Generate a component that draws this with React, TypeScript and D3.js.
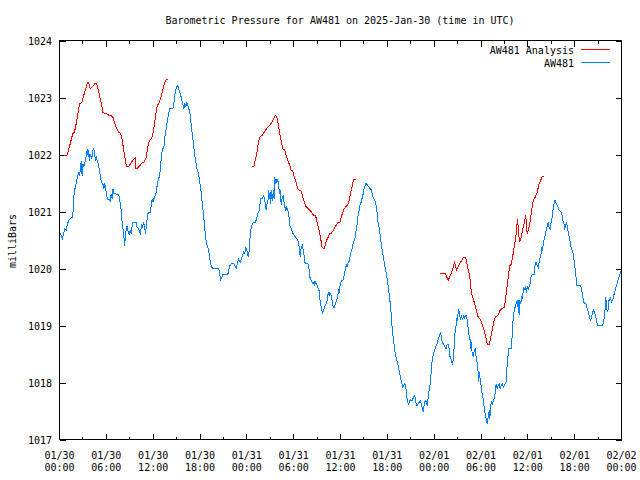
import React from "react";
import * as d3 from "d3";

// Minutes since 2025-01-30 00:00 UTC, pressure in millibars
const aw481: [number, number][] = [
[0,1020.64],[8,1020.61],[21,1020.52],[31,1020.61],[41,1020.70],[51,1020.67],[61,1020.78],[71,1020.84],[82,1020.87],[92,1020.90],[102,1020.90],[108,1021.19],[115,1021.40],[123,1021.40],[128,1021.51],[141,1021.63],[148,1021.69],[154,1021.63],[159,1021.72],[167,1021.89],[171,1021.72],[174,1021.63],[179,1021.84],[187,1021.79],[198,1021.89],[205,1021.98],[215,1022.10],[221,1021.95],[225,1022.07],[231,1021.89],[238,1022.01],[248,1021.92],[256,1022.07],[264,1022.10],[271,1021.98],[277,1021.89],[282,1021.98],[290,1021.89],[297,1021.84],[302,1021.78],[313,1021.63],[323,1021.51],[333,1021.49],[341,1021.40],[348,1021.50],[354,1021.40],[359,1021.34],[367,1021.22],[379,1021.21],[390,1021.19],[397,1021.31],[405,1021.22],[410,1021.40],[417,1021.32],[428,1021.31],[440,1021.30],[456,1021.30],[463,1021.19],[471,1021.08],[477,1020.96],[482,1020.78],[487,1020.72],[494,1020.58],[502,1020.40],[507,1020.64],[513,1020.67],[520,1020.75],[528,1020.64],[536,1020.61],[543,1020.67],[551,1020.61],[559,1020.75],[563,1020.80],[576,1020.80],[590,1020.80],[597,1020.72],[607,1020.70],[615,1020.64],[623,1020.61],[630,1020.78],[638,1020.72],[646,1020.81],[653,1020.75],[661,1020.61],[669,1020.79],[679,1020.96],[689,1020.99],
[699,1020.99],[707,1021.14],[713,1021.22],[720,1021.16],[725,1021.22],[736,1021.28],[743,1021.34],[751,1021.46],[761,1021.59],[769,1021.61],[776,1021.78],[784,1021.98],[792,1022.10],[802,1022.11],[807,1022.25],[815,1022.39],[820,1022.45],[828,1022.57],[836,1022.68],[846,1022.80],[859,1022.80],[871,1022.80],[879,1022.89],[884,1023.01],[892,1023.12],[899,1023.18],[909,1023.21],[917,1023.15],[925,1023.09],[935,1023.01],[943,1022.92],[951,1022.86],[955,1022.80],[963,1022.89],[971,1022.84],[979,1022.92],[986,1022.86],[994,1022.80],[1002,1022.74],[1009,1022.60],[1017,1022.42],[1025,1022.28],[1032,1022.13],[1040,1021.98],[1048,1021.87],[1055,1021.75],[1063,1021.72],[1071,1021.63],[1078,1021.51],[1086,1021.40],[1094,1021.22],[1101,1021.08],[1109,1020.90],[1117,1020.70],[1125,1020.52],[1132,1020.43],[1140,1020.37],[1148,1020.29],[1155,1020.17],[1163,1020.08],[1171,1020.02],[1178,1020.00],[1212,1020.00],[1224,1020.00],[1232,1019.88],[1240,1019.80],[1248,1019.85],[1258,1019.90],[1276,1019.90],[1294,1019.90],[1301,1019.97],[1309,1020.05],[1322,1020.09],[1340,1020.09],[1347,1020.05],[1360,1020.01],[1370,1020.11],[1376,1020.17],[1384,1020.14],[1391,1020.11],[1399,1020.17],[1407,1020.23],[1417,1020.29],[1424,1020.26],
[1430,1020.37],[1437,1020.35],[1445,1020.26],[1453,1020.20],[1460,1020.37],[1466,1020.58],[1474,1020.72],[1481,1020.78],[1494,1020.81],[1507,1020.81],[1514,1020.87],[1524,1020.96],[1537,1021.02],[1545,1021.22],[1553,1021.22],[1563,1021.25],[1570,1021.28],[1578,1021.19],[1589,1021.02],[1596,1021.14],[1604,1021.22],[1609,1021.37],[1614,1021.22],[1620,1021.34],[1624,1021.14],[1630,1021.37],[1635,1021.28],[1640,1021.19],[1645,1021.37],[1650,1021.22],[1655,1021.60],[1660,1021.49],[1666,1021.57],[1670,1021.51],[1676,1021.57],[1681,1021.51],[1686,1021.43],[1691,1021.31],[1696,1021.37],[1701,1021.19],[1706,1021.11],[1712,1021.25],[1719,1021.28],[1727,1021.14],[1732,1021.08],[1740,1021.02],[1747,1021.08],[1755,1021.02],[1763,1020.93],[1770,1020.75],[1778,1020.72],[1789,1020.64],[1796,1020.61],[1804,1020.58],[1814,1020.55],[1822,1020.52],[1832,1020.50],[1839,1020.43],[1845,1020.32],[1850,1020.20],[1858,1020.37],[1866,1020.40],[1870,1020.35],[1878,1020.29],[1883,1020.11],[1896,1020.09],[1909,1020.08],[1916,1020.05],[1924,1019.85],[1935,1019.79],[1942,1019.76],[1950,1019.73],[1958,1019.76],[1962,1019.70],[1968,1019.76],[1975,1019.73],[1983,1019.70],[1989,1019.64],[1996,1019.61],[2001,1019.47],[2009,1019.35],[2014,1019.29],[2022,1019.21],[2027,1019.26],[2035,1019.29],[2042,1019.35],[2050,1019.38],[2058,1019.44],[2065,1019.56],[2073,1019.58],[2078,1019.53],[2085,1019.56],[2093,1019.47],[2101,1019.35],[2109,1019.31],[2116,1019.35],[2121,1019.38],[2129,1019.44],[2137,1019.50],[2145,1019.61],[2150,1019.58],[2155,1019.67],
[2160,1019.73],[2168,1019.79],[2181,1019.80],[2185,1019.85],[2193,1019.94],[2201,1020.02],[2206,1020.08],[2211,1020.02],[2216,1020.09],[2224,1020.11],[2231,1020.17],[2237,1020.26],[2244,1020.32],[2252,1020.37],[2258,1020.46],[2262,1020.46],[2268,1020.52],[2273,1020.55],[2278,1020.64],[2283,1020.72],[2288,1020.78],[2293,1020.90],[2301,1020.99],[2308,1021.11],[2316,1021.14],[2324,1021.22],[2329,1021.25],[2334,1021.31],[2339,1021.37],[2344,1021.43],[2352,1021.46],[2357,1021.50],[2365,1021.47],[2373,1021.44],[2381,1021.42],[2388,1021.40],[2396,1021.38],[2404,1021.31],[2411,1021.25],[2416,1021.22],[2424,1021.19],[2431,1021.14],[2437,1021.05],[2442,1020.96],[2447,1020.84],[2454,1020.75],[2460,1020.67],[2465,1020.58],[2470,1020.49],[2477,1020.37],[2485,1020.26],[2493,1020.15],[2500,1020.05],[2508,1019.97],[2516,1019.85],[2524,1019.73],[2531,1019.61],[2539,1019.47],[2544,1019.32],[2550,1019.20],[2554,1019.03],[2562,1018.85],[2570,1018.71],[2577,1018.56],[2585,1018.47],[2593,1018.39],[2600,1018.33],[2608,1018.24],[2616,1018.15],[2623,1018.07],[2631,1017.98],[2639,1017.92],[2647,1017.95],[2654,1017.98],[2662,1017.92],[2667,1017.80],[2675,1017.68],[2683,1017.60],[2688,1017.66],[2693,1017.68],[2700,1017.70],[2708,1017.68],[2716,1017.71],[2723,1017.75],[2731,1017.77],[2736,1017.68],[2744,1017.60],[2752,1017.60],[2759,1017.63],[2767,1017.66],[2775,1017.68],[2783,1017.60],[2790,1017.54],[2796,1017.48],[2800,1017.57],[2808,1017.66],[2816,1017.68],[2821,1017.63],[2829,1017.60],[2836,1017.80],[2844,1017.89],
[2852,1018.01],[2859,1018.27],[2867,1018.42],[2875,1018.50],[2882,1018.56],[2890,1018.62],[2898,1018.65],[2906,1018.71],[2913,1018.77],[2921,1018.81],[2929,1018.88],[2936,1018.80],[2942,1018.71],[2949,1018.68],[2957,1018.65],[2965,1018.62],[2972,1018.59],[2980,1018.67],[2992,1018.67],[2998,1018.47],[3005,1018.44],[3013,1018.39],[3021,1018.30],[3026,1018.39],[3031,1018.53],[3039,1018.85],[3046,1018.94],[3052,1019.12],[3059,1019.10],[3067,1019.29],[3075,1019.20],[3082,1019.09],[3090,1019.18],[3098,1019.09],[3103,1019.15],[3108,1019.18],[3115,1019.12],[3121,1019.18],[3128,1019.18],[3134,1019.09],[3142,1018.94],[3149,1018.82],[3157,1018.74],[3161,1018.59],[3167,1018.71],[3172,1018.50],[3180,1018.47],[3188,1018.56],[3195,1018.59],[3203,1018.44],[3211,1018.33],[3218,1018.18],[3223,1018.01],[3228,1018.18],[3234,1018.04],[3241,1017.95],[3249,1017.80],[3257,1017.71],[3264,1017.57],[3272,1017.45],[3280,1017.36],[3288,1017.28],[3295,1017.39],[3303,1017.51],[3308,1017.36],[3313,1017.57],[3321,1017.68],[3328,1017.63],[3336,1017.68],[3344,1017.74],[3351,1017.86],[3357,1017.98],[3364,1017.89],[3372,1017.95],[3380,1017.98],[3388,1017.89],[3395,1017.95],[3403,1017.98],[3411,1017.92],[3418,1017.95],[3426,1017.98],[3434,1018.01],[3438,1018.21],[3446,1018.44],[3454,1018.59],[3467,1018.59],[3474,1018.59],[3480,1018.85],[3487,1019.12],[3495,1019.26],[3503,1019.33],[3510,1019.38],[3518,1019.44],[3523,1019.32],[3528,1019.44],[3533,1019.18],[3538,1019.44],[3546,1019.38],[3554,1019.50],
[3559,1019.47],[3567,1019.68],[3574,1019.64],[3582,1019.67],[3590,1019.58],[3595,1019.68],[3603,1019.64],[3610,1019.68],[3618,1019.73],[3626,1019.88],[3636,1019.89],[3649,1019.89],[3657,1020.08],[3664,1020.11],[3672,1020.05],[3680,1020.02],[3687,1020.11],[3695,1020.20],[3703,1020.26],[3707,1020.37],[3713,1020.30],[3718,1020.43],[3726,1020.52],[3733,1020.58],[3741,1020.67],[3749,1020.75],[3756,1020.81],[3764,1020.72],[3772,1020.70],[3779,1020.81],[3787,1020.90],[3795,1021.05],[3803,1021.16],[3810,1021.20],[3818,1021.14],[3826,1021.11],[3833,1021.08],[3841,1021.02],[3849,1021.00],[3856,1020.99],[3864,1020.93],[3872,1020.81],[3879,1020.78],[3884,1020.70],[3889,1020.72],[3895,1020.81],[3902,1020.75],[3910,1020.64],[3918,1020.55],[3926,1020.46],[3933,1020.37],[3941,1020.32],[3949,1020.25],[3956,1020.14],[3964,1019.99],[3972,1019.82],[3976,1019.70],[3987,1019.70],[3999,1019.70],[4007,1019.70],[4015,1019.61],[4022,1019.50],[4030,1019.41],[4038,1019.38],[4046,1019.38],[4053,1019.32],[4061,1019.26],[4069,1019.20],[4076,1019.12],[4084,1019.09],[4089,1019.15],[4097,1019.20],[4105,1019.29],[4112,1019.23],[4120,1019.18],[4128,1019.09],[4136,1019.00],[4148,1019.00],[4161,1019.00],[4174,1019.00],[4181,1019.06],[4189,1019.15],[4195,1019.32],[4199,1019.50],[4205,1019.32],[4212,1019.23],[4220,1019.32],[4225,1019.47],[4230,1019.44],[4235,1019.50],[4243,1019.41],[4251,1019.44],[4258,1019.50],[4266,1019.58],[4274,1019.64],[4281,1019.70],[4289,1019.76],[4297,1019.82],[4304,1019.88],[4312,1019.92],[4320,1019.98]
];

const analysisRun1: [number, number][] = [
[38,1021.98],[56,1021.98],[64,1022.04],[77,1022.14],[90,1022.26],[102,1022.37],[115,1022.39],[128,1022.54],[141,1022.71],[154,1022.89],[171,1022.91],[184,1023.02],[200,1023.14],[215,1023.26],[225,1023.26],[236,1023.15],[248,1023.18],[261,1023.21],[271,1023.24],[287,1023.24],[300,1023.12],[313,1022.98],[325,1022.86],[333,1022.74],[351,1022.72],[364,1022.71],[379,1022.69],[397,1022.68],[410,1022.66],[425,1022.54],[440,1022.45],[456,1022.39],[471,1022.37],[482,1022.25],[492,1022.10],[505,1021.92],[515,1021.79],[530,1021.79],[546,1021.84],[561,1021.89],[582,1021.94],[584,1021.75],[597,1021.75],[610,1021.79],[623,1021.82],[636,1021.85],[653,1021.87],[666,1021.95],[679,1022.13],[692,1022.25],[709,1022.29],[723,1022.42],[738,1022.67],[751,1022.86],[763,1022.89],[776,1022.98],[789,1023.09],[802,1023.21],[815,1023.30],[830,1023.32]
];
const analysisRun2: [number, number][] = [
[1481,1021.79],[1494,1021.79],[1507,1021.92],[1520,1022.07],[1532,1022.25],[1545,1022.32],[1558,1022.33],[1570,1022.38],[1583,1022.42],[1596,1022.47],[1609,1022.49],[1622,1022.53],[1635,1022.58],[1647,1022.64],[1660,1022.68],[1670,1022.67],[1681,1022.54],[1693,1022.36],[1706,1022.22],[1716,1022.10],[1732,1022.08],[1743,1021.98],[1755,1021.89],[1770,1021.81],[1781,1021.72],[1793,1021.71],[1806,1021.60],[1819,1021.51],[1832,1021.40],[1845,1021.37],[1858,1021.36],[1870,1021.25],[1883,1021.16],[1896,1021.08],[1912,1021.05],[1924,1021.02],[1937,1020.99],[1950,1020.94],[1968,1020.93],[1981,1020.81],[1993,1020.70],[2006,1020.55],[2019,1020.37],[2032,1020.35],[2039,1020.37],[2052,1020.49],[2065,1020.55],[2078,1020.61],[2091,1020.62],[2104,1020.67],[2116,1020.72],[2129,1020.77],[2142,1020.81],[2155,1020.81],[2173,1020.96],[2185,1021.03],[2198,1021.08],[2211,1021.11],[2224,1021.16],[2231,1021.25],[2242,1021.37],[2254,1021.49],[2262,1021.57],[2278,1021.57]
];
const analysisRun3: [number, number][] = [
[2923,1019.92],[2967,1019.91],[2988,1019.79],[3019,1019.96],[3036,1020.11],[3052,1019.98],[3082,1020.11],[3108,1020.20],[3121,1020.20],[3138,1020.02],[3154,1019.85],[3167,1019.56],[3192,1019.38],[3218,1019.15],[3236,1019.10],[3257,1018.97],[3277,1018.79],[3288,1018.67],[3303,1018.67],[3321,1018.85],[3338,1019.06],[3351,1019.15],[3369,1019.18],[3390,1019.28],[3421,1019.32],[3436,1019.61],[3451,1019.88],[3461,1020.05],[3474,1020.08],[3487,1020.26],[3497,1020.40],[3510,1020.61],[3520,1020.87],[3536,1020.46],[3549,1020.55],[3564,1020.72],[3574,1020.81],[3584,1020.93],[3595,1020.61],[3603,1020.67],[3615,1020.78],[3628,1020.99],[3641,1021.19],[3657,1021.25],[3672,1021.34],[3687,1021.49],[3703,1021.57],[3710,1021.61],[3726,1021.61]
];

const yTicks = [1017, 1018, 1019, 1020, 1021, 1022, 1023, 1024];
const title = "Barometric Pressure for AW481 on 2025-Jan-30 (time in UTC)";
const yLabel = "milliBars";
const seriesNames = ["AW481 Analysis", "AW481"];
const seriesColors = ["#ff0000", "#0080ff"];

const START = Date.UTC(2025, 0, 30);
const END = Date.UTC(2025, 1, 2);

export default function App() {
  const W = 640, H = 480;
  const L = 59.5, R = 621.5, T = 40.5, B = 439.5;
  const x = d3.scaleUtc().domain([new Date(START), new Date(END)]).range([L, R]);
  const y = d3.scaleLinear().domain([1017, 1024]).range([B, T]);
  const toDate = (m: number) => new Date(START + m * 60000);
  const line = d3.line<[number, number]>()
    .x((d) => x(toDate(d[0])))
    .y((d) => y(d[1]));

  const major = x.ticks(d3.utcHour.every(6) as any);
  const minor = x.ticks(d3.utcHour.every(3) as any).filter((d) => d.getUTCHours() % 6 !== 0);
  const fmtDate = d3.utcFormat("%m/%d");
  const fmtTime = d3.utcFormat("%H:%M");
  const font = "'DejaVu Sans Mono', monospace";

  return (
    <svg width={W} height={H} style={{ position: "absolute", left: 0, top: 0, background: "#fff" }}
      fontFamily={font} fontSize={10}>
      <rect x={0} y={0} width={W} height={H} fill="#fff" />
      <text x={340} y={24} textAnchor="middle" fill="#000">{title}</text>
      <text transform={`translate(16,241) rotate(-90)`} textAnchor="middle" fill="#000">{yLabel}</text>
      <g stroke="#000" strokeWidth={1} shapeRendering="crispEdges">
        {yTicks.map((t) => (
          <g key={t}>
            <line x1={L} x2={L + 6} y1={Math.round(y(t)) + 0.5} y2={Math.round(y(t)) + 0.5} />
            <line x1={R} x2={R - 6} y1={Math.round(y(t)) + 0.5} y2={Math.round(y(t)) + 0.5} />
          </g>
        ))}
        {major.map((d, i) => {
          const px = Math.round(x(d) - 0.5) + 0.5;
          return (
            <g key={i}>
              <line x1={px} x2={px} y1={B} y2={B - 6} />
              <line x1={px} x2={px} y1={T} y2={T + 6} />
            </g>
          );
        })}
        {minor.map((d, i) => {
          const px = Math.round(x(d) - 0.5) + 0.5;
          return (
            <g key={i}>
              <line x1={px} x2={px} y1={B} y2={B - 3} />
              <line x1={px} x2={px} y1={T} y2={T + 3} />
            </g>
          );
        })}
      </g>
      {yTicks.map((t) => (
        <text key={t} x={52} y={y(t) + 4} textAnchor="end" fill="#000">{t}</text>
      ))}
      {major.map((d, i) => (
        <g key={i}>
          <text x={x(d)} y={459} textAnchor="middle" fill="#000">{fmtDate(d)}</text>
          <text x={x(d)} y={471} textAnchor="middle" fill="#000">{fmtTime(d)}</text>
        </g>
      ))}
      <g fill="none" strokeWidth={1} shapeRendering="crispEdges">
        {[analysisRun1, analysisRun2, analysisRun3].map((run, i) => (
          <path key={i} d={line(run) || ""} stroke={seriesColors[0]} />
        ))}
        <path d={line(aw481) || ""} stroke={seriesColors[1]} />
      </g>
      {seriesNames.map((n, i) => (
        <g key={n}>
          <text x={574} y={54 + i * 13} textAnchor="end" fill="#000">{n}</text>
          <line x1={581} x2={610} y1={49.5 + i * 13} y2={49.5 + i * 13} stroke={seriesColors[i]} shapeRendering="crispEdges" />
        </g>
      ))}
      <rect x={L} y={T} width={R - L} height={B - T} fill="none" stroke="#000" strokeWidth={1} shapeRendering="crispEdges" />
    </svg>
  );
}
